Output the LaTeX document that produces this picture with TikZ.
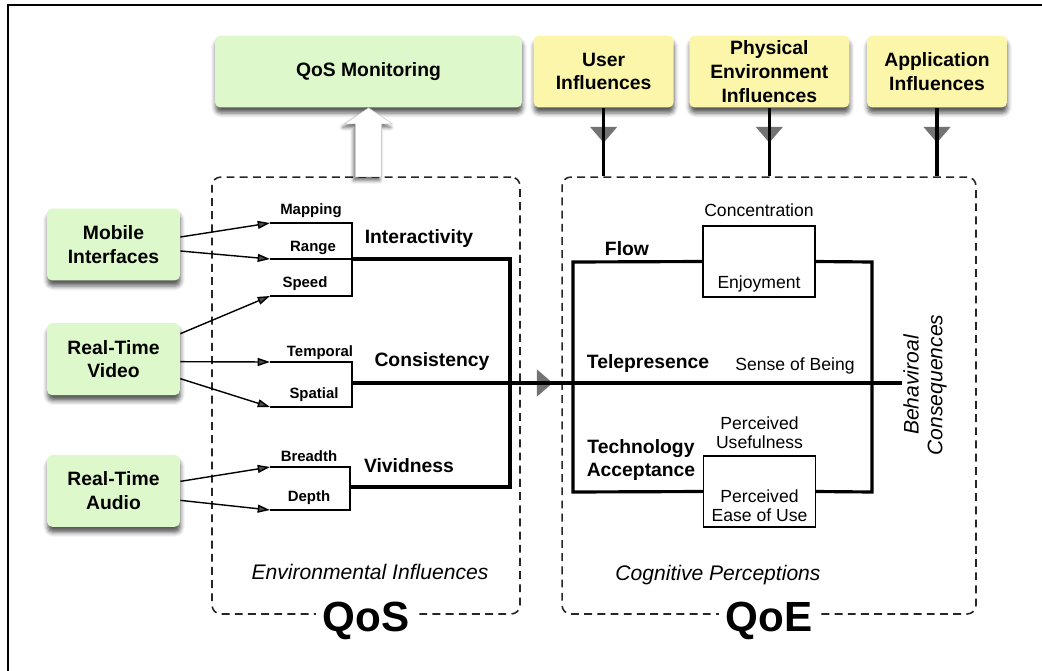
\documentclass[tikz,border=0pt]{standalone}
\usepackage{fontspec}
\setmainfont{Liberation Sans}
\usetikzlibrary{shapes, arrows.meta, positioning, shadows, shadows.blur, decorations.markings}
\definecolor{QoSgreen}{RGB}{221, 248, 202}
\definecolor{QoEyellow}{RGB}{252, 246, 170}
\tikzset{
    basicbox/.style={
        rectangle,
        rounded corners=3pt,
        fill=QoSgreen,
        align=center,
        inner sep=2pt,
        minimum height=1.44cm,
        font=\fontsize{11}{13.5}\selectfont\bfseries,
        blur shadow={shadow xshift=0.3pt, shadow yshift=-3.2pt, shadow blur radius=2.5pt, shadow opacity=65}
    },
    inflbox/.style={
        basicbox,
        fill=QoEyellow
    },
    % dashed QoS / QoE areas
    areabox/.style={
        rectangle,
        rounded corners=5pt,
        draw=black!85,
        line width=0.9pt,
        dash pattern=on 4.5pt off 3pt,
        minimum width=#1,
        minimum height=8.74cm
    },
    areatitle/.style={
        fill=white,
        inner xsep=4pt,
        inner ysep=0pt,
        font=\fontsize{24}{28}\selectfont\bfseries
    },
    arrow/.style={
        -{Triangle[length=7pt, width=4.5pt]},
        line width=0.8pt
    },
    bracket/.style={line width=0.8pt},
    mainline/.style={line width=1.8pt},
    gatetip/.style={
        postaction={decorate, decoration={markings,
            mark=at position #1 with {\arrow[black!55]{Triangle[length=9pt, width=15pt]};
                \draw[line width=1.8pt, black] (-10pt,0) -- (0.5pt,0);}}}
    },
    bigarrow/.style={
        fill=white,
        draw=black!20,
        line width=0.3pt,
        blur shadow={shadow xshift=-1pt, shadow yshift=-2pt, shadow blur radius=2pt, shadow opacity=60}
    },
    % texts
    itemlabel/.style={font=\fontsize{8.5}{10}\selectfont\bfseries, anchor=base, inner sep=0pt},
    partlabel/.style={font=\fontsize{10}{11.2}\selectfont, align=center, inner sep=1pt},
    partbox/.style={rectangle, draw, line width=0.8pt, minimum width=2.24cm, minimum height=1.42cm},
    factor/.style={font=\fontsize{11}{13.6}\selectfont\bfseries, align=center},
    arealabel/.style={font=\fontsize{12}{13.6}\selectfont\itshape, align=center}
}

\begin{document}
\begin{tikzpicture}[x=0.02cm, y=-0.02cm]
    \useasboundingbox (0,0) rectangle (1042,670);
    \draw[line width=1.2pt] (8,700) -- (8,5) -- (1100,5);

    % monitoring and influences
    \node[basicbox, minimum width=6.14cm] (monitor) at (368.5,71.5) {QoS Monitoring};
    \node[inflbox, minimum width=2.8cm, right=0.22cm of monitor] (user) {User\\Influences};
    \node[inflbox, minimum width=3.2cm, right=0.3cm of user] (phys) {Physical\\Environment\\Influences};
    \node[inflbox, minimum width=2.8cm, right=0.34cm of phys] (app) {Application\\Influences};

    % sources
    \node[basicbox, minimum width=2.66cm] (mobile) at (113.5,244.5) {Mobile\\Interfaces};
    \node[basicbox, minimum width=2.66cm, below=0.84cm of mobile] (video) {Real-Time\\Video};
    \node[basicbox, minimum width=2.66cm, below=1.18cm of video] (audio) {Real-Time\\Audio};

    % areas
    \node[areabox=6.16cm] (qosbox) at (366,395.5) {};
    \node[areabox=8.28cm] (qoebox) at (769,395.5) {};
    \node[areatitle] (qostitle) at ([yshift=-0.12cm]qosbox.south) {QoS};
    \node[areatitle] (qoetitle) at ([yshift=-0.12cm]qoebox.south) {QoE};
    \node[arealabel] (envlabel) at (370,572) {Environmental Influences};
    \node[arealabel] (coglabel) at (718,575) {Cognitive Perceptions};

    \draw[bigarrow] (monitor.south) -- ++(24,16) -- ++(-11,0) -- ++(0,53) -- ++(-26,0) -- ++(0,-53) -- ++(-11,0) -- cycle;

    \draw[mainline, gatetip=0.51] (user.south) -- (user.south |- qoebox.north);
    \draw[mainline, gatetip=0.51] (phys.south) -- (phys.south |- qoebox.north);
    \draw[mainline, gatetip=0.51] (app.south) -- (app.south |- qoebox.north);

    % QoS brackets
    \coordinate (mapL) at (270,223);   \coordinate (mapR) at (352,223);
    \coordinate (rangeL) at (270,259); \coordinate (rangeR) at (352,259);
    \coordinate (speedL) at (270,296); \coordinate (speedR) at (352,296);
    \coordinate (tempL) at (270,362);  \coordinate (tempR) at (352,362);
    \coordinate (spatL) at (270,407);  \coordinate (spatR) at (352,407);
    \coordinate (breadL) at (270,467); \coordinate (breadR) at (350,467);
    \coordinate (depthL) at (270,510); \coordinate (depthR) at (350,510);
    \coordinate (consJ) at (352,383);  \coordinate (consEnd) at (902,383);
    \coordinate (vivJ) at (350,487);
    \coordinate (hubTop) at (510,259); \coordinate (hubBot) at (510,487);

    \node[itemlabel] (mapping) at (311,214) {Mapping};
    \node[itemlabel] (range) at (313,251) {Range};
    \node[itemlabel] (speed) at (305,287) {Speed};
    \node[itemlabel] (temporal) at (320,356) {Temporal};
    \node[itemlabel] (spatial) at (314,398) {Spatial};
    \node[itemlabel] (breadth) at (309,461) {Breadth};
    \node[itemlabel] (depth) at (309,501) {Depth};

    \node[factor] (interact) at (419,238) {Interactivity};
    \node[factor] (consist) at (432,361) {Consistency};
    \node[factor] (vivid) at (409,466) {Vividness};

    \draw[bracket] (mapL) -- (mapR) -- (speedR) -- (speedL);
    \draw[bracket] (rangeL) -- (rangeR);
    \draw[bracket] (tempL) -- (tempR) -- (spatR) -- (spatL);
    \draw[bracket] (breadL) -- (breadR) -- (depthR) -- (depthL);
    \draw[mainline] (rangeR) -- (hubTop) -- (hubBot) -- (vivJ);
    \draw[mainline, gatetip=0.365] (consJ) -- (consEnd);

    \draw[arrow] ([yshift=0.15cm]mobile.east) -- (mapL);
    \draw[arrow] ([yshift=-0.13cm]mobile.east) -- (rangeL);
    \draw[arrow] ([yshift=0.51cm]video.east) -- (speedL);
    \draw[arrow] ([yshift=-0.05cm]video.east) -- (tempL);
    \draw[arrow] ([yshift=-0.39cm]video.east) -- (spatL);
    \draw[arrow] ([yshift=0.19cm]audio.east) -- (breadL);
    \draw[arrow] ([yshift=-0.19cm]audio.east) -- (depthL);

    % QoE side
    \node[partbox] (flowbox) at (759,261.5) {};
    \node[partbox] (techbox) at (759.5,491.5) {};
    \node[partlabel, above=4pt of flowbox.north] (concentr) {Concentration};
    \node[partlabel, above=2pt of flowbox.south] (enjoy) {Enjoyment};
    \node[partlabel, above=2.4pt of techbox.north] (useful) {Perceived\\Usefulness};
    \node[partlabel, above=2pt of techbox.south] (ease) {Perceived\\Ease of Use};
    \node[partlabel] (being) at (795,366) {Sense of Being};

    \coordinate (flowTL) at (573,262); \coordinate (flowTR) at (872,262);
    \coordinate (flowBL) at (573,492); \coordinate (flowBR) at (872,492);
    \draw[mainline] (flowbox.west) -- (flowTL) -- (flowBL) -- (techbox.west);
    \draw[mainline] (flowbox.east) -- (flowTR) -- (flowBR) -- (techbox.east);

    \node[factor] (flow) at (627,249) {Flow};
    \node[factor] (telep) at (648,363) {Telepresence};
    \node[factor] (techacc) at (641,460) {Technology\\Acceptance};
    \node[arealabel, rotate=90] (behav) at (925,385) {Behaviroal\\Consequences};
\end{tikzpicture}
\end{document}
